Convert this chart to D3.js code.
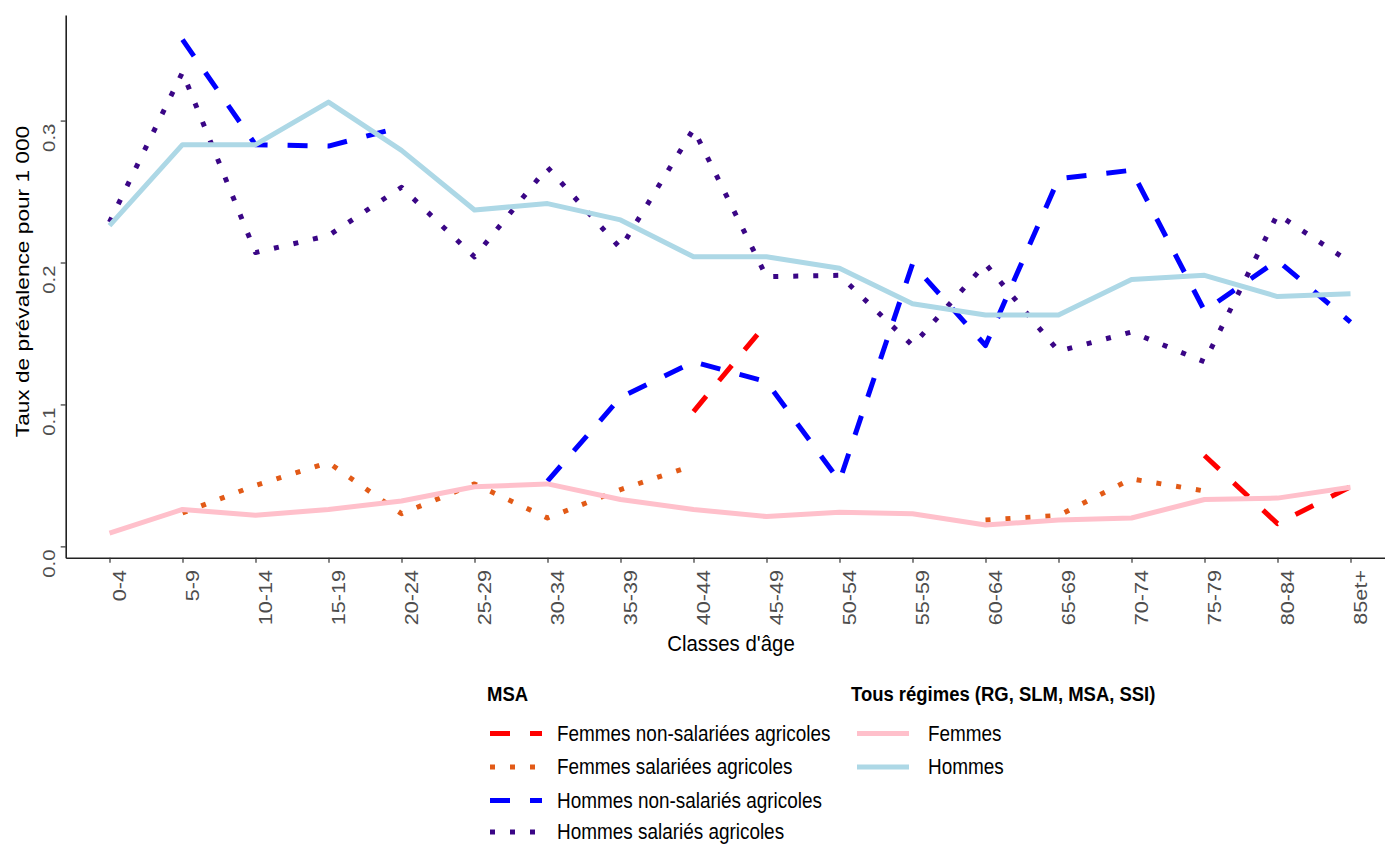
<!DOCTYPE html>
<html>
<head>
<meta charset="utf-8">
<script src="https://cdn.jsdelivr.net/npm/d3@7"></script>
<style>
  html, body { margin: 0; padding: 0; background: #fff; }
  svg { display: block; }
  text { font-family: "Liberation Sans", Arial, sans-serif; }
</style>
</head>
<body>
<svg id="chart" width="1385" height="844"></svg>
<script>
// ---- Data ----
const categories = ["0-4","5-9","10-14","15-19","20-24","25-29","30-34","35-39","40-44","45-49","50-54","55-59","60-64","65-69","70-74","75-79","80-84","85et+"];
const yTicks = [0.0, 0.1, 0.2, 0.3];
const yTickLabels = ["0.0", "0.1", "0.2", "0.3"];

// MSA
const femmesNonSalariees = [null,null,null,null,null,null,null,null,0.095,0.157,null,null,null,null,null,0.064,0.016,0.042];
const femmesSalariees    = [null,0.0235,0.043,0.059,0.023,0.044,0.020,0.040,0.057,null,null,null,0.0186,0.0217,0.0475,0.039,null,null];
const hommesNonSalaries  = [null,0.357,0.283,0.282,0.2955,null,0.046,0.105,0.130,0.116,0.046,0.199,0.1415,0.259,0.265,0.166,0.2015,0.158];
const hommesSalaries     = [0.2285,0.334,0.207,0.219,0.253,0.204,0.267,0.210,0.294,0.190,0.191,0.1415,0.199,0.1375,0.151,0.130,0.234,0.200];
// Tous régimes
const femmesTous = [0.0094,0.026,0.022,0.026,0.032,0.042,0.044,0.033,0.026,0.021,0.024,0.023,0.015,0.0186,0.020,0.033,0.034,0.0416];
const hommesTous = [0.226,0.283,0.283,0.313,0.279,0.237,0.2415,0.230,0.204,0.204,0.196,0.171,0.163,0.163,0.188,0.191,0.176,0.178];

const msaTitle = "MSA";
const tousTitle = "Tous régimes (RG, SLM, MSA, SSI)";
const msaSeries = [
  {name: "Femmes non-salariées agricoles", values: femmesNonSalariees, color: "#ff0000", dash: "20,20"},
  {name: "Femmes salariées agricoles",     values: femmesSalariees,    color: "#e25a17", dash: "5,15"},
  {name: "Hommes non-salariés agricoles",  values: hommesNonSalaries,  color: "#0000ff", dash: "20,20"},
  {name: "Hommes salariés agricoles",      values: hommesSalaries,     color: "#3a0686", dash: "5,15"}
];
const tousSeries = [
  {name: "Femmes", values: femmesTous, color: "#ffc0cb", dash: null},
  {name: "Hommes", values: hommesTous, color: "#add8e6", dash: null}
];

// ---- Layout ----
const svg = d3.select("#chart");
const panel = {left: 65.7, top: 15, bottom: 557.7};
const step = 73;
const x = d3.scalePoint().domain(categories)
  .range([panel.left, panel.left + step * (categories.length - 1 + 1.2)])
  .padding(0.6);

const allVals = [].concat(...msaSeries.map(s => s.values), ...tousSeries.map(s => s.values)).filter(v => v != null);
const [vmin, vmax] = d3.extent(allVals);
const pad = 0.05 * (vmax - vmin);
const y = d3.scaleLinear().domain([vmin - pad, vmax + pad]).range([panel.bottom, panel.top]);

const LW = 5;
const line = d3.line()
  .defined(d => d.v != null)
  .x(d => x(d.c))
  .y(d => y(d.v));

function drawSeries(s) {
  const data = categories.map((c, i) => ({c, v: s.values[i]}));
  const segs = [];
  let cur = [];
  data.forEach(d => {
    if (d.v == null) { if (cur.length) segs.push(cur); cur = []; }
    else cur.push(d);
  });
  if (cur.length) segs.push(cur);
  segs.forEach(seg => {
    svg.append("path")
      .attr("d", line(seg))
      .attr("fill", "none")
      .attr("stroke", s.color)
      .attr("stroke-width", LW)
      .attr("stroke-linejoin", "round")
      .attr("stroke-linecap", "butt")
      .attr("stroke-dasharray", s.dash);
  });
}
msaSeries.forEach(drawSeries);
tousSeries.forEach(drawSeries);

// ---- Axes ----
const xAxis = d3.axisBottom(x).tickSize(5).tickSizeOuter(0).tickFormat(() => "");
const gx = svg.append("g").attr("transform", `translate(0,${panel.bottom})`).call(xAxis);
gx.select(".domain").attr("stroke", "#222").attr("stroke-width", 1.6);
gx.selectAll(".tick line").attr("stroke", "#333").attr("stroke-width", 1.2);

const yAxis = d3.axisLeft(y).tickValues(yTicks).tickSize(5).tickSizeOuter(0).tickFormat(() => "");
const gy = svg.append("g").attr("transform", `translate(${panel.left},0)`).call(yAxis);
gy.select(".domain").attr("stroke", "#222").attr("stroke-width", 1.6);
gy.selectAll(".tick line").attr("stroke", "#333").attr("stroke-width", 1.2);

const STRETCH = 1.2;
svg.append("g").selectAll("text").data(categories).join("text")
  .attr("transform", d => `translate(${x(d) + 16},570) rotate(-90) scale(${STRETCH},1)`)
  .attr("text-anchor", "end")
  .attr("font-size", 18)
  .attr("fill", "#4d4d4d")
  .text(d => d);

svg.append("g").selectAll("text").data(yTicks).join("text")
  .attr("transform", (d, i) => `translate(55,${y(d) + 3}) rotate(-90) scale(${STRETCH},1)`)
  .attr("text-anchor", "end")
  .attr("font-size", 17)
  .attr("fill", "#4d4d4d")
  .text((d, i) => yTickLabels[i]);

svg.append("text")
  .attr("transform", `translate(28.5,${(123 + 440) / 2}) rotate(-90) scale(1.22,1)`)
  .attr("text-anchor", "middle")
  .attr("font-size", 18.6)
  .attr("fill", "#000")
  .text("Taux de prévalence pour 1 000");

svg.append("text")
  .attr("transform", `translate(731,651) scale(0.95,1)`)
  .attr("text-anchor", "middle")
  .attr("font-size", 21.5)
  .attr("fill", "#000")
  .text("Classes d'âge");

// ---- Legend ----
const LS = 0.88;
function legendText(xp, yp, txt, bold, fs) {
  svg.append("text")
    .attr("transform", `translate(${xp},${yp}) scale(${LS},1)`)
    .attr("font-size", fs)
    .attr("font-weight", bold ? "bold" : "normal")
    .attr("fill", "#000")
    .text(txt);
}
legendText(487, 701, msaTitle, true, 21);
legendText(851, 701, tousTitle, true, 21);

const rowY = [733.5, 767, 800.5, 832];
msaSeries.forEach((s, i) => {
  svg.append("line")
    .attr("x1", 490).attr("x2", 542)
    .attr("y1", rowY[i]).attr("y2", rowY[i])
    .attr("stroke", s.color).attr("stroke-width", LW)
    .attr("stroke-dasharray", s.dash);
  legendText(557, rowY[i] + 7, s.name, false, 21.5);
});
tousSeries.forEach((s, i) => {
  svg.append("line")
    .attr("x1", 857).attr("x2", 909)
    .attr("y1", rowY[i]).attr("y2", rowY[i])
    .attr("stroke", s.color).attr("stroke-width", LW);
  legendText(928, rowY[i] + 7, s.name, false, 21.5);
});
</script>
</body>
</html>
